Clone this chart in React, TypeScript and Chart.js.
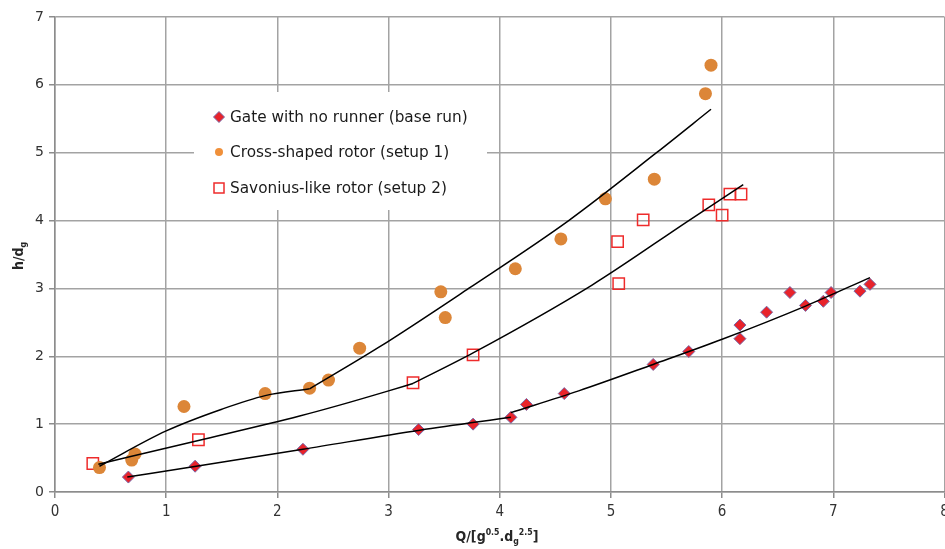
import React, { useEffect, useRef } from "react";
import { Chart, registerables } from "chart.js";

Chart.register(...registerables);

// ---- data ----
const baseX = [0.66, 1.26, 2.23, 3.27, 3.76, 4.10, 4.24, 4.58, 5.38, 5.70, 6.16, 6.16, 6.40, 6.61, 6.75, 6.91, 6.98, 7.24, 7.33];
const baseY = [0.22, 0.38, 0.63, 0.92, 1.00, 1.10, 1.29, 1.45, 1.88, 2.07, 2.26, 2.46, 2.65, 2.94, 2.75, 2.81, 2.94, 2.96, 3.06];

const crossX = [0.40, 0.72, 0.69, 1.16, 1.89, 2.29, 2.46, 2.74, 3.47, 3.51, 4.14, 4.55, 4.95, 5.39, 5.85, 5.90];
const crossY = [0.36, 0.56, 0.47, 1.26, 1.45, 1.53, 1.65, 2.12, 2.95, 2.57, 3.29, 3.73, 4.32, 4.61, 5.87, 6.29];

const savX = [0.34, 1.29, 3.22, 3.76, 5.06, 5.07, 5.29, 5.88, 6.00, 6.07, 6.17];
const savY = [0.42, 0.77, 1.61, 2.02, 3.69, 3.07, 4.01, 4.23, 4.08, 4.39, 4.39];

// trend lines
const baseLowX = [0.65, 1.27, 2.23, 3.28, 4.10];
const baseLowY = [0.22, 0.38, 0.63, 0.91, 1.10];
const baseHighX = [4.10, 4.71, 5.38, 6.00, 6.75, 7.33];
const baseHighY = [1.17, 1.49, 1.88, 2.25, 2.74, 3.16];

const crossLowX = [0.40, 1.00, 1.50, 1.89, 2.29];
const crossLowY = [0.38, 0.90, 1.22, 1.42, 1.52];
const crossHighX = [2.29, 2.91, 3.72, 4.62, 5.41, 5.90];
const crossHighY = [1.52, 2.13, 3.00, 4.00, 5.00, 5.64];

const savLowX = [0.39, 1.29, 2.20, 2.56, 3.00, 3.22];
const savLowY = [0.41, 0.76, 1.12, 1.28, 1.49, 1.60];
const savHighX = [3.22, 3.76, 4.83, 5.70, 6.19];
const savHighY = [1.60, 2.05, 3.05, 4.00, 4.53];

const seriesLabels = [
  "Gate with no runner (base run)",
  "Cross-shaped rotor (setup 1)",
  "Savonius-like rotor (setup 2)",
];

const xTitle = [
  { t: "Q/[g", k: "n" },
  { t: "0.5", k: "sup" },
  { t: ".d", k: "n" },
  { t: "g", k: "sub" },
  { t: "2.5", k: "sup" },
  { t: "]", k: "n" },
];
const yTitle = [
  { t: "h/d", k: "n" },
  { t: "g", k: "sub" },
];

const zip = (xs: number[], ys: number[]) => xs.map((x, i) => ({ x, y: ys[i] }));

const RED = "#e8232b";
const DIAMOND_EDGE = "#7868a8";
const ORANGE = "#dc8638";
const SQUARE = "#ee2b2b";

function drawRich(ctx: CanvasRenderingContext2D, segs: { t: string; k: string }[], cx: number, baseline: number, size: number, family: string, weight: string) {
  const small = size * 0.62;
  const fontFor = (k: string) => `${weight} ${k === "n" ? size : small}px ${family}`;
  let total = 0;
  const widths = segs.map((s) => {
    ctx.font = fontFor(s.k);
    const w = ctx.measureText(s.t).width;
    total += w;
    return w;
  });
  let x = cx - total / 2;
  ctx.textAlign = "left";
  ctx.textBaseline = "alphabetic";
  segs.forEach((s, i) => {
    ctx.font = fontFor(s.k);
    let y = baseline;
    if (s.k === "sup") y = baseline - size * 0.42;
    if (s.k === "sub") y = baseline + size * 0.22;
    ctx.fillText(s.t, x, y);
    x += widths[i];
  });
}

const overlayPlugin = {
  id: "overlay",
  afterDraw(chart: any) {
    const ctx: CanvasRenderingContext2D = chart.ctx;
    ctx.save();
    // legend box
    ctx.fillStyle = "#ffffff";
    ctx.fillRect(194, 92, 293, 118);
    const rows = [117, 152, 188];
    const mx = 219;
    ctx.font = "15.3px 'DejaVu Sans'";
    ctx.textBaseline = "middle";
    ctx.textAlign = "left";
    // diamond
    ctx.beginPath();
    ctx.moveTo(mx, rows[0] - 5.5);
    ctx.lineTo(mx + 5.5, rows[0]);
    ctx.lineTo(mx, rows[0] + 5.5);
    ctx.lineTo(mx - 5.5, rows[0]);
    ctx.closePath();
    ctx.fillStyle = RED;
    ctx.fill();
    ctx.strokeStyle = DIAMOND_EDGE;
    ctx.lineWidth = 1;
    ctx.stroke();
    // circle
    ctx.beginPath();
    ctx.arc(mx, rows[1], 4, 0, Math.PI * 2);
    ctx.fillStyle = "#f0903a";
    ctx.fill();
    // square
    ctx.strokeStyle = SQUARE;
    ctx.lineWidth = 1.5;
    ctx.strokeRect(mx - 5, rows[2] - 5, 10, 10);
    ctx.fillStyle = "#1a1a1a";
    seriesLabels.forEach((lab, i) => ctx.fillText(lab, 230, rows[i] + 1));

    // axis titles
    ctx.fillStyle = "#262626";
    drawRich(ctx, xTitle, 497, 541, 14, "'DejaVu Sans Condensed', 'DejaVu Sans'", "bold");
    ctx.save();
    ctx.translate(18, 256);
    ctx.rotate(-Math.PI / 2);
    drawRich(ctx, yTitle, 0, 5, 14, "'DejaVu Sans Condensed', 'DejaVu Sans'", "bold");
    ctx.restore();
    ctx.restore();
  },
};

export default function App() {
  const ref = useRef<HTMLCanvasElement>(null);
  useEffect(() => {
    if (!ref.current) return;
    const lineDs = (xs: number[], ys: number[]) => ({
      type: "line" as const,
      data: zip(xs, ys),
      showLine: true,
      borderColor: "#000000",
      borderWidth: 1.5,
      pointRadius: 0,
      fill: false,
      cubicInterpolationMode: "monotone" as const,
    });
    const chart = new Chart(ref.current, {
      type: "scatter",
      data: {
        datasets: [
          lineDs(baseLowX, baseLowY),
          lineDs(baseHighX, baseHighY),
          lineDs(crossLowX, crossLowY),
          lineDs(crossHighX, crossHighY),
          lineDs(savLowX, savLowY),
          lineDs(savHighX, savHighY),
          {
            label: seriesLabels[0],
            data: zip(baseX, baseY),
            pointStyle: "rectRot",
            pointRadius: 6,
            backgroundColor: RED,
            borderColor: DIAMOND_EDGE,
            borderWidth: 1,
          },
          {
            label: seriesLabels[1],
            data: zip(crossX, crossY),
            pointStyle: "circle",
            pointRadius: 6.5,
            backgroundColor: ORANGE,
            borderWidth: 0,
          },
          {
            label: seriesLabels[2],
            data: zip(savX, savY),
            pointStyle: "rect",
            pointRadius: 8,
            backgroundColor: "rgba(0,0,0,0)",
            borderColor: SQUARE,
            borderWidth: 1.5,
          },
        ] as any,
      },
      options: {
        animation: false,
        responsive: true,
        maintainAspectRatio: false,
        layout: { padding: { top: 17, left: 0, right: 0, bottom: 0 } },
        plugins: { legend: { display: false }, tooltip: { enabled: false } },
        scales: {
          x: {
            type: "linear",
            min: 0,
            max: 8,
            ticks: {
              stepSize: 1,
              padding: 5,
              color: "#333333",
              font: { family: "'DejaVu Sans Condensed', 'DejaVu Sans'", size: 15 },
            },
            grid: { color: "#a3a3a3", lineWidth: 1.5, tickLength: 6, tickColor: "#8c8c8c" },
            border: { display: true, color: "#8c8c8c", width: 1.5 },
            afterFit: (scale: any) => {
              scale.height = 57;
              scale.paddingLeft = 0;
              scale.paddingRight = 0;
            },
          },
          y: {
            type: "linear",
            min: 0,
            max: 7,
            ticks: {
              stepSize: 1,
              padding: 5,
              color: "#333333",
              font: { family: "'DejaVu Sans'", size: 14 },
            },
            grid: { color: "#a3a3a3", lineWidth: 1.5, tickLength: 6, tickColor: "#8c8c8c" },
            border: { display: true, color: "#8c8c8c", width: 1.5 },
            afterFit: (scale: any) => {
              scale.width = 55;
              scale.paddingTop = 0;
              scale.paddingBottom = 0;
            },
          },
        },
      } as any,
      plugins: [overlayPlugin],
    });
    return () => chart.destroy();
  }, []);
  return (
    <div style={{ position: "fixed", left: 0, top: 0, width: 945, height: 549, overflow: "hidden", background: "#fff" }}>
      <div style={{ position: "absolute", left: 0, top: 0, width: 954, height: 549 }}>
        <canvas ref={ref} />
      </div>
    </div>
  );
}
